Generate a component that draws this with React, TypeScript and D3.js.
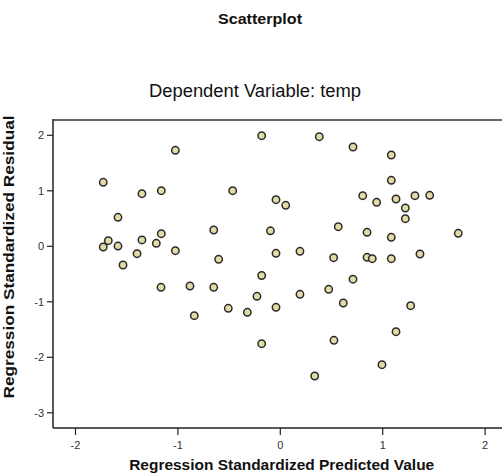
import React from "react";
import * as d3 from "d3";

const predicted: number[] = [
  -1.729, -1.68, -1.729, -1.585, -1.585, -1.536, -1.399, -1.351, -1.351, -1.211,
  -1.162, -1.162, -1.025, -1.025, -0.65, -0.602, -0.465, -0.182, -0.182, -0.096,
  0.381, 0.71, 1.084, 1.084, -0.042, 0.053, 0.805, 0.941, 1.13, 1.315,
  1.459, 1.221, 1.221, 0.566, 0.847, 1.084, 1.738, -0.042, 0.192, 0.521,
  0.847, 0.898, 1.084, 1.364, 0.71, -1.165, -0.882, -0.65, -0.228, -0.508,
  -0.322, -0.84, -0.182, 0.192, 0.473, 0.615, -0.042, 1.273, 0.524, 1.13,
  0.993, 0.336,
];
const residual: number[] = [
  1.153, 0.101, -0.013, 0.523, 0.005, -0.337, -0.133, 0.948, 0.114, 0.054,
  1.002, 0.227, 1.73, -0.079, 0.294, -0.234, 1.002, 1.993, -0.526, 0.279,
  1.975, 1.789, 1.645, 1.189, 0.84, 0.739, 0.912, 0.793, 0.852, 0.912,
  0.919, 0.69, 0.497, 0.353, 0.252, 0.162, 0.234, -0.126, -0.09, -0.205,
  -0.198, -0.223, -0.223, -0.139, -0.593, -0.739, -0.715, -0.739, -0.901, -1.117,
  -1.189, -1.25, -1.755, -0.865, -0.775, -1.022, -1.099, -1.07, -1.694, -1.539,
  -2.133, -2.337,
];
const xTicks: number[] = [-2, -1, 0, 1, 2];
const yTicks: number[] = [-3, -2, -1, 0, 1, 2];

const title = "Scatterplot";
const subtitle = "Dependent Variable: temp";
const xTitle = "Regression Standardized Predicted Value";
const yTitle = "Regression Standardized Residual";

export default function App() {
  const W = 502, H = 473;
  const left = 53, right = 502, top = 120, bottom = 428;
  const x = d3.scaleLinear().domain([-2, 2]).range([75.5, 485.1]);
  const y = d3.scaleLinear().domain([-3, 2]).range([412.8, 135.3]);
  const font = "'Liberation Sans', Arial, sans-serif";
  const pts = predicted.map((p, i) => ({ p, r: residual[i] }));
  return (
    <div style={{ position: "absolute", left: 0, top: 0 }}>
      <svg width={W} height={H} style={{ display: "block", background: "#fff" }} fontFamily={font}>
        <rect x={0} y={0} width={W} height={H} fill="#fff" />
        <text x={260} y={24} textAnchor="middle" fontSize={15} fontWeight="bold" fill="#111" textLength={84} lengthAdjust="spacingAndGlyphs">{title}</text>
        <text x={255} y={97} textAnchor="middle" fontSize={17.5} fill="#111" textLength={212} lengthAdjust="spacingAndGlyphs">{subtitle}</text>
        {/* frame */}
        <line x1={left} x2={right} y1={top} y2={top} stroke="#666" strokeWidth={2} />
        <line x1={left} x2={left} y1={top - 1} y2={bottom} stroke="#222" strokeWidth={1.5} />
        <line x1={left} x2={right} y1={bottom} y2={bottom} stroke="#222" strokeWidth={1.5} />
        {/* y ticks */}
        {yTicks.map((t) => (
          <g key={"y" + t}>
            <line x1={left - 6} x2={left} y1={y(t)} y2={y(t)} stroke="#222" strokeWidth={1.2} />
            <text x={left - 9} y={y(t)} dy="0.35em" textAnchor="end" fontSize={11} fill="#333">{t}</text>
          </g>
        ))}
        {/* x ticks */}
        {xTicks.map((t) => (
          <g key={"x" + t}>
            <line x1={x(t)} x2={x(t)} y1={bottom} y2={bottom + 7} stroke="#222" strokeWidth={1.2} />
            <text x={x(t)} y={449} textAnchor="middle" fontSize={11} fill="#333">{t}</text>
          </g>
        ))}
        {/* points */}
        {pts.map((d, i) => (
          <circle key={i} cx={x(d.p)} cy={y(d.r)} r={3.7} fill="#e3dba6" stroke="#2a2a2a" strokeWidth={1.5} />
        ))}
        <text x={281.7} y={470} textAnchor="middle" fontSize={15} fontWeight="bold" fill="#111" textLength={305} lengthAdjust="spacingAndGlyphs">{xTitle}</text>
        <text transform={`translate(14,257) rotate(-90)`} textAnchor="middle" fontSize={15} fontWeight="bold" fill="#111" textLength={283} lengthAdjust="spacingAndGlyphs">{yTitle}</text>
      </svg>
    </div>
  );
}
